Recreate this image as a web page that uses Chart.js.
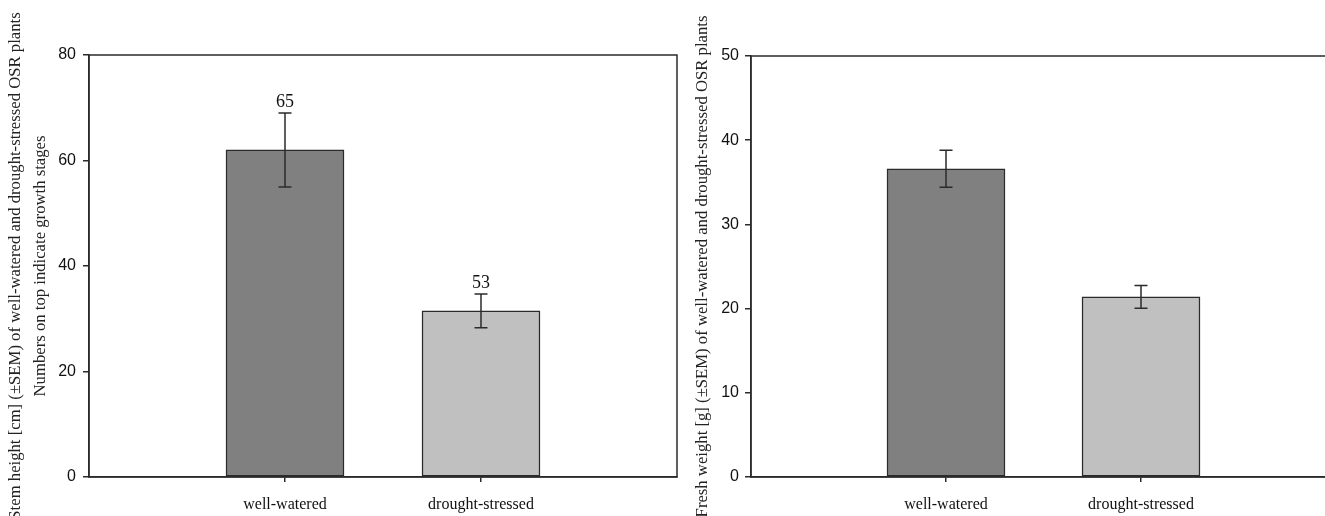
<!DOCTYPE html>
<html>
<head>
<meta charset="utf-8">
<script src="https://cdn.jsdelivr.net/npm/chart.js@4.4.1/dist/chart.umd.min.js"></script>
<style>
  html, body { margin: 0; padding: 0; background: #fff; overflow: hidden; width: 1325px; height: 516px; }
  #left { position: absolute; left: 0; top: 0; }
  #right { position: absolute; left: 690px; top: 0; }
</style>
</head>
<body>
<canvas id="left" width="690" height="516"></canvas>
<canvas id="right" width="660" height="516"></canvas>
<script>
// values
const categories = ['well-watered', 'drought-stressed'];
const stemHeight = [62, 31.5];
const stemSem = [7, 3.2];
const growthStage = [65, 53];
const freshWeight = [36.6, 21.4];
const freshSem = [2.2, 1.35];
const barColors = ['#808080', '#c0c0c0'];

const ink = '#2b2b2b';
const serif = "'Liberation Serif', 'Times New Roman', serif";
const sans = "'Liberation Sans', Arial, sans-serif";

// pad categories with empty slots so bars sit at 1/3 and 2/3 of the axis
function padded(arr) { return [null].concat(arr, [null]); }
const labels = [''].concat(categories, ['']);

const errorBars = {
    id: 'errorBars',
    afterDatasetsDraw(chart, args, opts) {
        const ctx = chart.ctx;
        const yScale = chart.scales.y;
        const meta = chart.getDatasetMeta(0);
        const values = chart.data.datasets[0].data;
        ctx.save();
        ctx.strokeStyle = ink;
        ctx.lineWidth = 1.5;
        meta.data.forEach((bar, i) => {
            const v = values[i];
            const e = opts.errors[i];
            if (v == null || e == null) return;
            const top = yScale.getPixelForValue(v + e);
            const bot = yScale.getPixelForValue(v - e);
            const x = bar.x;
            ctx.beginPath();
            ctx.moveTo(x, top); ctx.lineTo(x, bot);
            ctx.moveTo(x - 6.5, top); ctx.lineTo(x + 6.5, top);
            ctx.moveTo(x - 6.5, bot); ctx.lineTo(x + 6.5, bot);
            ctx.stroke();
            if (opts.notes && opts.notes[i] != null) {
                ctx.fillStyle = '#111';
                ctx.font = '18px ' + serif;
                ctx.textAlign = 'center';
                ctx.textBaseline = 'alphabetic';
                ctx.fillText(String(opts.notes[i]), x, top - 6);
            }
        });
        ctx.restore();
    }
};

const frame = {
    id: 'frame',
    afterDraw(chart) {
        const a = chart.chartArea;
        const ctx = chart.ctx;
        ctx.save();
        ctx.strokeStyle = ink;
        ctx.lineWidth = 1.5;
        ctx.strokeRect(a.left, a.top, a.right - a.left, a.bottom - a.top);
        ctx.restore();
    }
};

function makeChart(id, values, errors, notes, yMax, step, title, axisWidth, titlePad, tickPad, padTop, padRight) {
    return new Chart(document.getElementById(id), {
        type: 'bar',
        data: {
            labels: labels,
            datasets: [{
                data: padded(values),
                backgroundColor: padded(barColors),
                borderColor: ink,
                borderWidth: 1.5,
                borderSkipped: false,
                barThickness: 118
            }]
        },
        options: {
            responsive: false,
            devicePixelRatio: 1,
            animation: false,
            layout: { padding: { top: padTop, right: padRight, left: 0, bottom: 0 } },
            plugins: {
                legend: { display: false },
                tooltip: { enabled: false },
                errorBars: { errors: padded(errors), notes: notes ? padded(notes) : null }
            },
            scales: {
                x: {
                    offset: false,
                    afterFit: (s) => { s.height = 39; },
                    grid: {
                        display: true,
                        offset: false,
                        drawOnChartArea: false,
                        drawTicks: true,
                        tickLength: 5,
                        lineWidth: 1.5,
                        color: (c) => (c.index === 1 || c.index === 2) ? ink : 'rgba(0,0,0,0)'
                    },
                    border: { display: true, color: ink, width: 1.5 },
                    ticks: {
                        padding: 13,
                        maxRotation: 0,
                        autoSkip: false,
                        color: '#111',
                        font: { family: serif, size: 16 }
                    }
                },
                y: {
                    min: 0,
                    max: yMax,
                    afterFit: (s) => { s.width = axisWidth; },
                    grid: {
                        display: true,
                        drawOnChartArea: false,
                        drawTicks: true,
                        tickLength: 6,
                        lineWidth: 1.5,
                        color: ink
                    },
                    border: { display: true, color: ink, width: 1.5 },
                    ticks: {
                        stepSize: step,
                        padding: tickPad,
                        color: '#111',
                        font: { family: sans, size: 16 }
                    },
                    title: {
                        display: true,
                        text: title,
                        color: '#222',
                        padding: { top: titlePad, bottom: 0 },
                        font: { family: serif, size: 16.7, lineHeight: 1.5 }
                    }
                }
            }
        },
        plugins: [errorBars, frame]
    });
}

makeChart('left', stemHeight, stemSem, growthStage, 80, 20,
    ['Stem height [cm] (\u00b1SEM) of well-watered and drought-stressed OSR plants',
     'Numbers on top indicate growth stages'],
    89, 3.5, 7, 55, 13);

makeChart('right', freshWeight, freshSem, null, 50, 10,
    'Fresh weight [g] (\u00b1SEM) of well-watered and drought-stressed OSR plants',
    61, 0.5, 6, 56, 14);
</script>
</body>
</html>
